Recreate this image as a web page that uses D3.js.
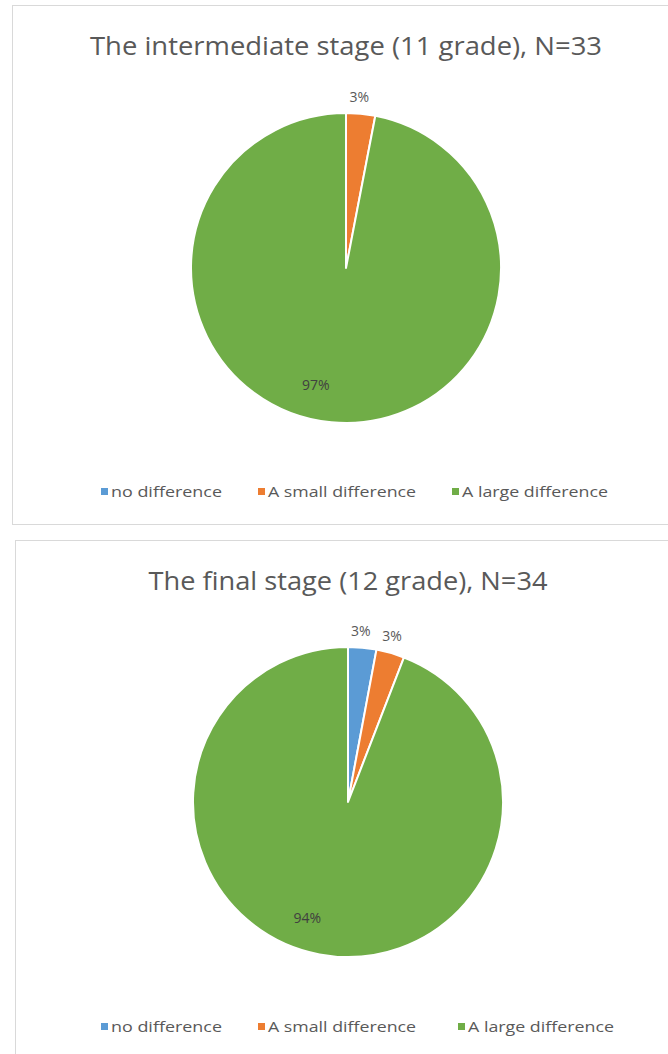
<!DOCTYPE html>
<html>
<head>
<meta charset="utf-8">
<script src="https://cdn.jsdelivr.net/npm/d3@7"></script>
<style>
  body { margin: 0; background: #fff; }
  svg { display: block; }
</style>
</head>
<body>
<svg id="chart" width="668" height="1054"></svg>
<script>
// Survey answers by stage
const categories = ["no difference", "A small difference", "A large difference"];
const colors = ["#5B9BD5", "#ED7D31", "#70AD47"];
const titles = ["The intermediate stage (11 grade), N=33", "The final stage (12 grade), N=34"];
const countsGrade11 = [0, 1, 32];
const countsGrade12 = [1, 1, 32];
const percentLabels11 = ["0%", "3%", "97%"];
const percentLabels12 = ["3%", "3%", "94%"];

const svg = d3.select("#chart");
const textColor = "#595959";
const font = "'Open Sans', 'Noto Sans', sans-serif";

const panels = [
  { counts: countsGrade11, labels: percentLabels11, title: titles[0],
    box: { x: 12.5, y: 5.5, h: 519 }, cx: 346, cy: 268, titleY: 55, titleW: 512, legendY: 492,
    legendX: [101, 258, 452] },
  { counts: countsGrade12, labels: percentLabels12, title: titles[1],
    box: { x: 15.5, y: 540.5, h: 530 }, cx: 348, cy: 802, titleY: 590, titleW: 399, legendY: 1027,
    legendX: [101, 258, 458] }
];

const radius = 155;
const pie = d3.pie().sort(null).value(d => d);
const arc = d3.arc().innerRadius(0).outerRadius(radius);
const outerLabelArc = d3.arc().innerRadius(radius + 17).outerRadius(radius + 17);
const innerLabelArc = d3.arc().innerRadius(radius * 0.76).outerRadius(radius * 0.76);

panels.forEach(p => {
  const g = svg.append("g");

  g.append("rect")
    .attr("x", p.box.x).attr("y", p.box.y)
    .attr("width", 700).attr("height", p.box.h)
    .attr("fill", "#fff").attr("stroke", "#d9d9d9").attr("stroke-width", 1);

  g.append("text")
    .attr("x", p.cx).attr("y", p.titleY)
    .attr("text-anchor", "middle")
    .attr("font-family", font).attr("font-size", 25.5)
    .attr("fill", textColor)
    .attr("textLength", p.titleW).attr("lengthAdjust", "spacingAndGlyphs")
    .text(p.title);

  const arcs = pie(p.counts);
  const pg = g.append("g").attr("transform", `translate(${p.cx},${p.cy})`);

  pg.selectAll("path")
    .data(arcs.filter(a => a.data > 0))
    .join("path")
    .attr("d", arc)
    .attr("fill", a => colors[a.index])
    .attr("stroke", "#fff").attr("stroke-width", 2).attr("stroke-linejoin", "round");

  pg.selectAll("text")
    .data(arcs.filter(a => a.data > 0))
    .join("text")
    .attr("transform", a => {
      const small = (a.endAngle - a.startAngle) < 0.6;
      const [x, y] = small ? outerLabelArc.centroid(a) : innerLabelArc.centroid(a);
      return `translate(${small ? x - 3 : x - 19},${y})`;
    })
    .attr("text-anchor", "middle")
    .attr("dy", "0.35em")
    .attr("font-family", font).attr("font-size", 14)
    .attr("fill", a => (a.endAngle - a.startAngle) < 0.6 ? textColor : "#404040")
    .text(a => p.labels[a.index]);

  const lg = g.append("g");
  categories.forEach((c, i) => {
    lg.append("rect")
      .attr("x", p.legendX[i]).attr("y", p.legendY - 4)
      .attr("width", 7).attr("height", 7)
      .attr("fill", colors[i]);
    lg.append("text")
      .attr("x", p.legendX[i] + 10).attr("y", p.legendY)
      .attr("dy", "0.35em")
      .attr("font-family", font).attr("font-size", 15)
      .attr("fill", textColor)
      .attr("textLength", [111, 148, 146][i]).attr("lengthAdjust", "spacingAndGlyphs")
      .text(c);
  });
});
</script>
</body>
</html>
